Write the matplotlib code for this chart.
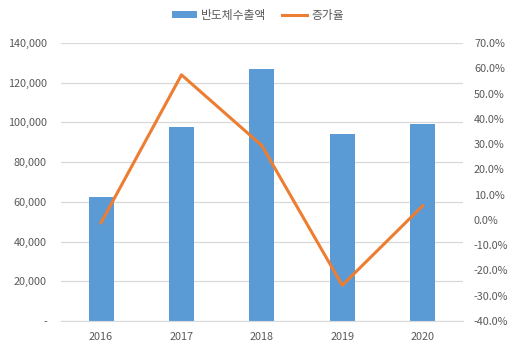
import numpy as np
import matplotlib.pyplot as plt
from matplotlib.ticker import FuncFormatter

plt.rcParams['font.family'] = ['Noto Sans CJK KR', 'DejaVu Sans']

# data
years = ['2016', '2017', '2018', '2019', '2020']
exports = [62228, 97937, 126706, 93930, 99177]
growth = [-1.1, 57.4, 29.4, -25.9, 5.6]

bar_color = '#5B9BD5'
line_color = '#ED7D31'
grid_color = '#D9D9D9'
text_color = '#595959'

fig = plt.figure(figsize=(5.16, 3.51), dpi=100)
ax = fig.add_axes([0.118, 0.0855, 0.779, 0.792])
x = np.arange(len(years))

ax.bar(x, exports, width=0.31, color=bar_color, label='반도체수출액', zorder=2)
ax.set_xlim(-0.5, len(years) - 0.5)
ax.set_ylim(0, 140000)
ax.set_yticks(np.arange(0, 140001, 20000))
ax.yaxis.set_major_formatter(FuncFormatter(lambda v, p: '-' if v == 0 else f'{v:,.0f}'))
ax.set_xticks(x)
ax.set_xticklabels(years)
ax.grid(axis='y', color=grid_color, linewidth=0.9, zorder=0)
ax.set_axisbelow(True)
for s in ['top', 'left', 'right']:
    ax.spines[s].set_visible(False)
ax.spines['bottom'].set_color(grid_color)
ax.tick_params(axis='both', length=0, labelsize=7.8, colors=text_color)
ax.tick_params(axis='y', pad=10)
ax.tick_params(axis='x', pad=8)

ax2 = ax.twinx()
ax2.plot(x, growth, color=line_color, linewidth=2.2, label='증가율', zorder=3)
ax2.set_ylim(-40, 70)
ax2.set_yticks(np.arange(-40, 71, 10))
ax2.yaxis.set_major_formatter(FuncFormatter(lambda v, p: f'{v:.1f}%'))
for s in ['top', 'left', 'right', 'bottom']:
    ax2.spines[s].set_visible(False)
ax2.tick_params(axis='y', length=0, labelsize=7.8, colors=text_color, pad=8)

h1, l1 = ax.get_legend_handles_labels()
h2, l2 = ax2.get_legend_handles_labels()
leg = fig.legend(h1 + h2, l1 + l2, loc='center', bbox_to_anchor=(0.5, 0.957), ncol=2,
                 frameon=False, fontsize=8.5, handlelength=2.1, handleheight=0.5,
                 handletextpad=0.35, columnspacing=1.35)
for t in leg.get_texts():
    t.set_color(text_color)

fig.savefig('out.png', dpi=100)
